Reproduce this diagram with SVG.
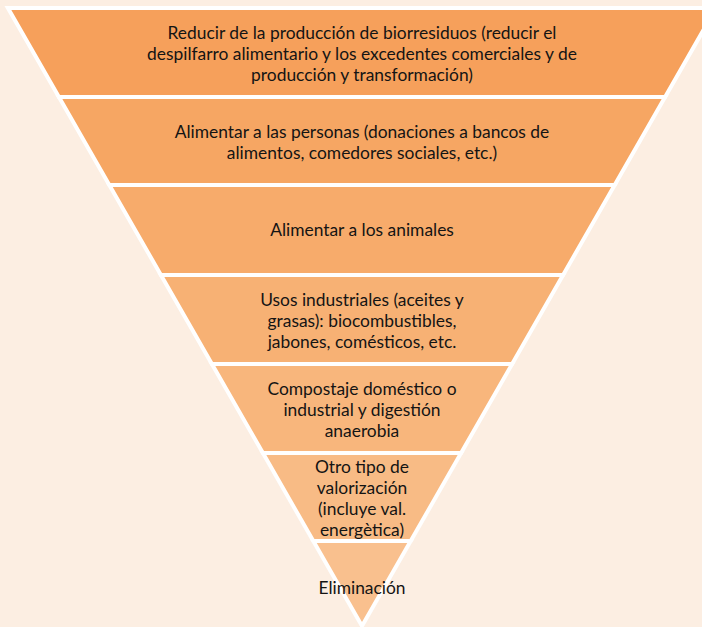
<svg xmlns="http://www.w3.org/2000/svg" width="702" height="627" viewBox="0 0 702 627">
<style>
.band{stroke:#FFFFFF;stroke-width:4;stroke-linejoin:miter}
.t{font-family:Lato,"Liberation Sans",sans-serif;font-size:17.4px;fill:#141414;text-anchor:middle}
</style>
<rect x="0" y="0" width="702" height="627" fill="#FCEEE2"/>
<g id="level1"><polygon class="band" fill="#F6A05B" points="7.9,8 716.1,8 665.1,97 58.9,97"/>
<text class="t" x="362" y="39">Reducir de la producción de biorresiduos (reducir el</text>
<text class="t" x="362" y="60">despilfarro alimentario y los excedentes comerciales y de</text>
<text class="t" x="362" y="81">producción y transformación)</text></g>
<g id="level2"><polygon class="band" fill="#F6A663" points="58.9,97 665.1,97 614.7,185 109.3,185"/>
<text class="t" x="362" y="138">Alimentar a las personas (donaciones a bancos de</text>
<text class="t" x="362" y="159">alimentos, comedores sociales, etc.)</text></g>
<g id="level3"><polygon class="band" fill="#F7AB6B" points="109.3,185 614.7,185 563.1,275 160.9,275"/>
<text class="t" x="362" y="236">Alimentar a los animales</text></g>
<g id="level4"><polygon class="band" fill="#F7B174" points="160.9,275 563.1,275 512.1,364 211.9,364"/>
<text class="t" x="362" y="306">Usos industriales (aceites y</text>
<text class="t" x="362" y="327">grasas): biocombustibles,</text>
<text class="t" x="362" y="348">jabones, comésticos, etc.</text></g>
<g id="level5"><polygon class="band" fill="#F8B67C" points="211.9,364 512.1,364 461.1,453 262.9,453"/>
<text class="t" x="362" y="395">Compostaje doméstico o</text>
<text class="t" x="362" y="416">industrial y digestión</text>
<text class="t" x="362" y="437">anaerobia</text></g>
<g id="level6"><polygon class="band" fill="#F8BB85" points="262.9,453 461.1,453 410.7,541 313.3,541"/>
<text class="t" x="362" y="473">Otro tipo de</text>
<text class="t" x="362" y="494">valorización</text>
<text class="t" x="362" y="515">(incluye val.</text>
<text class="t" x="362" y="536">energètica)</text></g>
<g id="level7"><polygon class="band" fill="#F9C08E" points="313.3,541 410.7,541 362,626"/>
<text class="t" x="362" y="594">Eliminación</text></g>
<g id="connectors"></g>
</svg>
